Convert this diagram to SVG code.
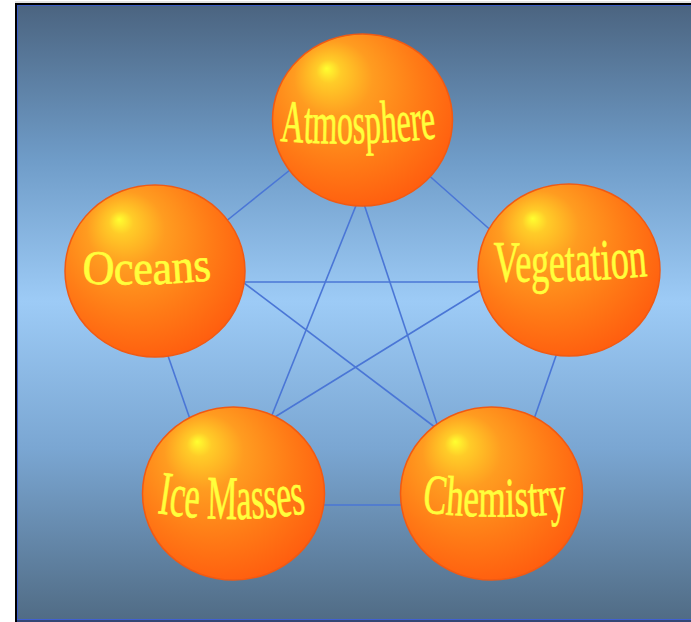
<svg xmlns="http://www.w3.org/2000/svg" width="691" height="622" viewBox="0 0 691 622">
  <defs>
    <linearGradient id="bg" x1="0" y1="0" x2="0" y2="1">
      <stop offset="0" stop-color="#4b6480"/>
      <stop offset="0.25" stop-color="#6f9cc8"/>
      <stop offset="0.48" stop-color="#9dcbf6"/>
      <stop offset="0.72" stop-color="#7aa6d2"/>
      <stop offset="1" stop-color="#506b84"/>
    </linearGradient>
    <radialGradient id="ball" cx="0.42" cy="0.38" r="0.68" fx="0.3" fy="0.2">
      <stop offset="0" stop-color="#ffff30"/>
      <stop offset="0.1" stop-color="#ffcc28"/>
      <stop offset="0.32" stop-color="#ff9c20"/>
      <stop offset="0.66" stop-color="#ff7a16"/>
      <stop offset="1" stop-color="#ff5a0e"/>
    </radialGradient>
    <style>
      .ball { fill: url(#ball); stroke: #f05a14; stroke-width: 1.5; }
      .lbl { font-family: "Liberation Serif", "Times New Roman", serif; fill: #ffff3c; stroke: #ffff3c; stroke-width: 0.7; }
      .edge { stroke: #4a76d6; stroke-width: 1.6; fill: none; }
    </style>
    <path id="pA" d="M 280 141 Q 358 147 437 138"/>
    <path id="pO" d="M 82 283 Q 147 287 212 280"/>
    <path id="pV" d="M 493 281 Q 570 283 648 276"/>
    <path id="pC" d="M 422 512 Q 495 521 568 513"/>
    <path id="pI" d="M 157 513 Q 232 525 307 513"/>
  </defs>

  <!-- frame and background -->
  <line x1="15" y1="2" x2="691" y2="2" stroke="#c8c8c8" stroke-width="1"/>
  <rect x="17" y="5" width="674" height="617" fill="url(#bg)"/>
  <line x1="16" y1="4" x2="691" y2="4" stroke="#000" stroke-width="2"/>
  <line x1="16" y1="3" x2="16" y2="622" stroke="#000" stroke-width="2"/>
  <line x1="17.5" y1="5.5" x2="691" y2="5.5" stroke="#3a5cc4" stroke-width="1"/>
  <line x1="17.5" y1="5" x2="17.5" y2="622" stroke="#3a5cc4" stroke-width="1"/>
  <line x1="17" y1="619.5" x2="691" y2="619.5" stroke="#4060d0" stroke-width="1"/>
  <line x1="17" y1="621" x2="691" y2="621" stroke="#283a70" stroke-width="1.5"/>

  <g id="connectors">
    <line class="edge" x1="300" y1="162" x2="220" y2="226"/>
    <line class="edge" x1="425" y1="172" x2="495" y2="234"/>
    <line class="edge" x1="359" y1="198" x2="270" y2="420"/>
    <line class="edge" x1="362" y1="198" x2="437" y2="424"/>
    <line class="edge" x1="240" y1="282" x2="484" y2="282"/>
    <line class="edge" x1="240" y1="280" x2="436" y2="428"/>
    <line class="edge" x1="484" y1="288" x2="270" y2="420"/>
    <line class="edge" x1="166" y1="350" x2="191" y2="422"/>
    <line class="edge" x1="558" y1="350" x2="533" y2="422"/>
    <line class="edge" x1="318" y1="505" x2="406" y2="505"/>
  </g>

  <g id="atmosphere">
    <ellipse class="ball" cx="362.5" cy="120" rx="90" ry="86"/>
    <text class="lbl" font-size="60"><textPath href="#pA" textLength="157" lengthAdjust="spacingAndGlyphs">Atmosphere</textPath></text>
  </g>
  <g id="oceans">
    <ellipse class="ball" cx="155" cy="271" rx="90" ry="86"/>
    <text class="lbl" font-size="48"><textPath href="#pO" textLength="130" lengthAdjust="spacingAndGlyphs">Oceans</textPath></text>
  </g>
  <g id="vegetation">
    <ellipse class="ball" cx="569" cy="270" rx="91" ry="86"/>
    <text class="lbl" font-size="58"><textPath href="#pV" textLength="155" lengthAdjust="spacingAndGlyphs">Vegetation</textPath></text>
  </g>
  <g id="ice-masses">
    <ellipse class="ball" cx="233.5" cy="493.5" rx="91" ry="86.5"/>
    <text class="lbl" font-size="62"><textPath href="#pI" textLength="150" lengthAdjust="spacingAndGlyphs">Ice Masses</textPath></text>
  </g>
  <g id="chemistry">
    <ellipse class="ball" cx="491.5" cy="493.5" rx="91" ry="86.5"/>
    <text class="lbl" font-size="56"><textPath href="#pC" textLength="146" lengthAdjust="spacingAndGlyphs">Chemistry</textPath></text>
  </g>
</svg>
